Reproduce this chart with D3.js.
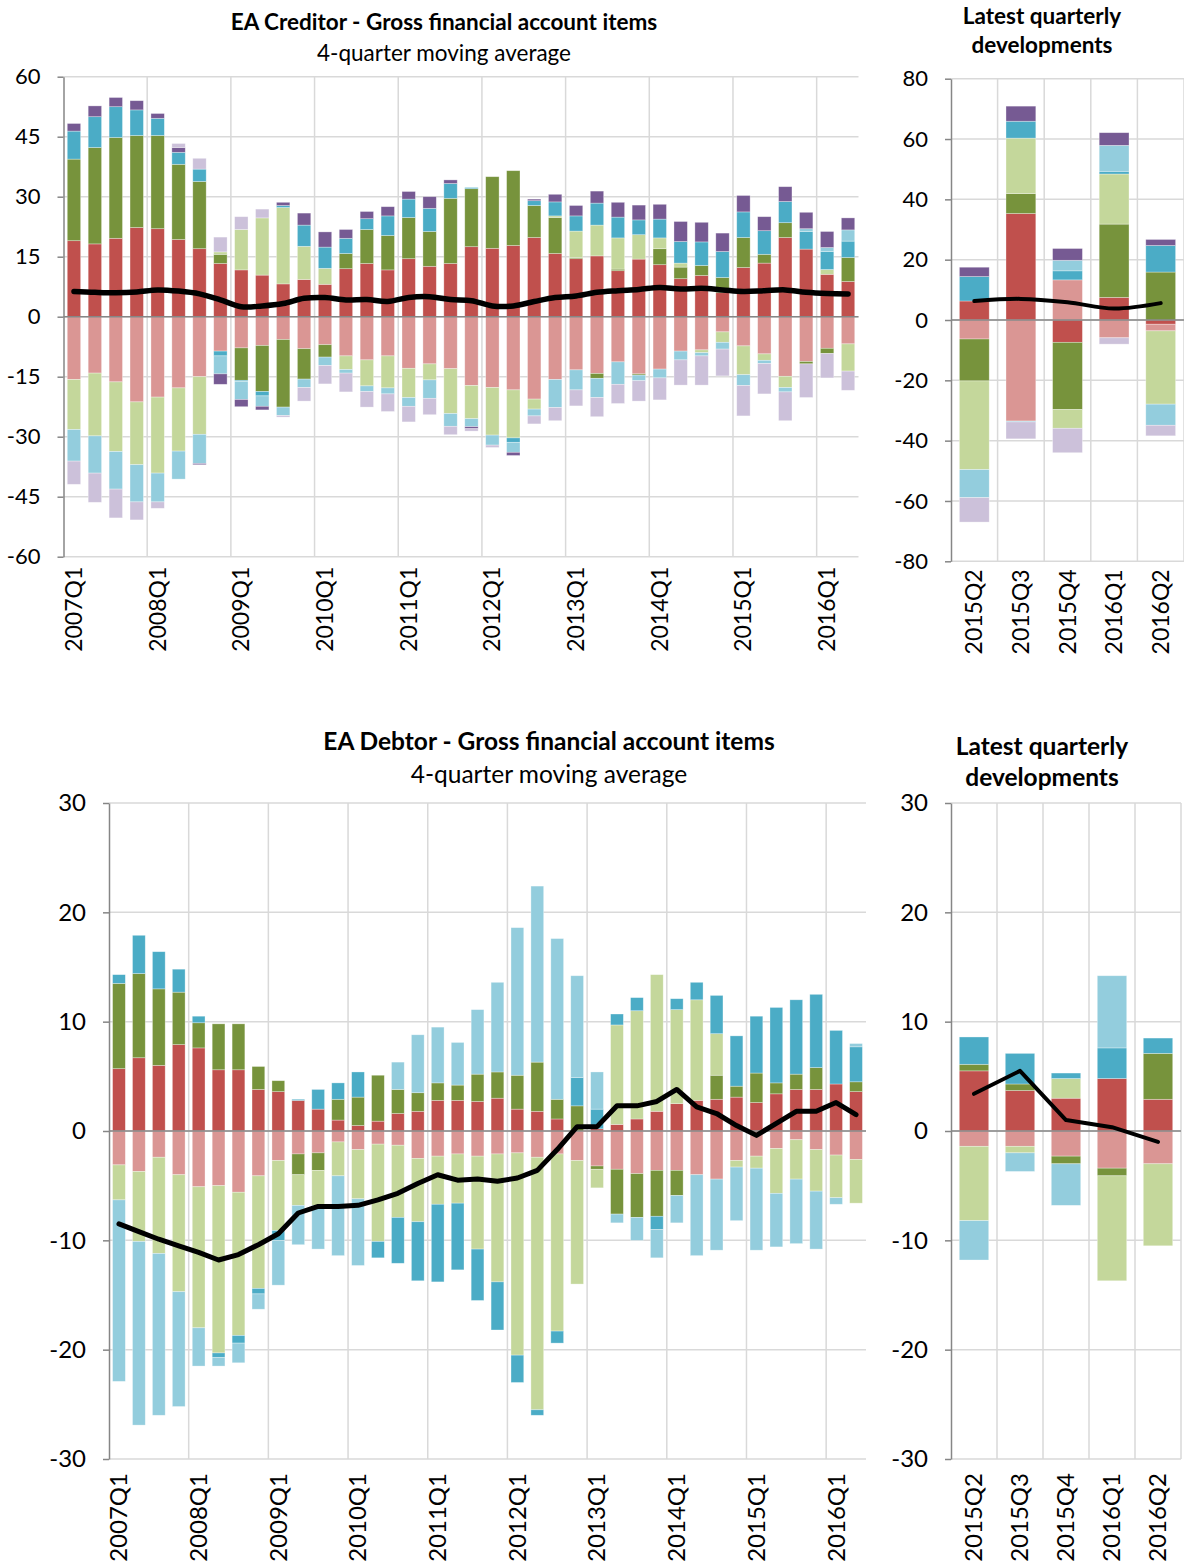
<!DOCTYPE html>
<html>
<head>
<meta charset="utf-8">
<script src="https://cdn.jsdelivr.net/npm/d3@7"></script>
<style>
  body { margin: 0; background: #fff; }
  svg { display: block; font-family: Lato, "Open Sans", sans-serif; }
</style>
</head>
<body>
<svg id="chart" width="1184" height="1564"></svg>
<script>
// categories
const quarters = ["2007Q1","2007Q2","2007Q3","2007Q4","2008Q1","2008Q2","2008Q3","2008Q4",
  "2009Q1","2009Q2","2009Q3","2009Q4","2010Q1","2010Q2","2010Q3","2010Q4",
  "2011Q1","2011Q2","2011Q3","2011Q4","2012Q1","2012Q2","2012Q3","2012Q4",
  "2013Q1","2013Q2","2013Q3","2013Q4","2014Q1","2014Q2","2014Q3","2014Q4",
  "2015Q1","2015Q2","2015Q3","2015Q4","2016Q1","2016Q2"];
const quarterLabels = ["2007Q1","2008Q1","2009Q1","2010Q1","2011Q1","2012Q1","2013Q1","2014Q1","2015Q1","2016Q1"];
const latestQuarters = ["2015Q2","2015Q3","2015Q4","2016Q1","2016Q2"];

// EA creditor, 4-quarter moving average
const credDirA  = [19.0,18.2,19.6,22.3,22.0,19.3,17.0,13.3,11.7,10.4,8.2,9.3,8.1,12.0,13.3,11.7,14.5,12.6,13.3,17.5,17.1,17.8,19.8,15.8,14.5,15.2,11.5,14.4,13.0,9.5,10.3,6.0,12.3,13.4,19.8,16.9,10.6,8.8];
const credDirL  = [-15.7,-14.1,-16.3,-21.3,-20.1,-17.8,-15.0,-8.6,-7.8,-7.2,-5.7,-8.0,-7.0,-9.8,-10.8,-9.8,-12.9,-11.8,-13.0,-17.2,-17.7,-18.3,-20.6,-15.7,-13.3,-14.2,-11.3,-14.3,-13.1,-8.6,-8.3,-3.8,-7.3,-9.3,-14.9,-11.2,-7.9,-6.8];
const credEqA   = [20.4,24.1,25.2,23.0,23.3,18.8,16.8,2.3,-8.1,-11.5,-16.9,-7.6,-3.1,3.8,8.5,8.6,10.3,8.7,16.3,14.5,17.9,18.7,8.0,9.0,0.3,-1.2,0.4,-0.3,4.0,2.9,2.5,3.8,7.5,2.2,3.7,-0.6,-1.3,6.0];
const credEqL   = [-12.5,-15.7,-17.4,-15.7,-19.0,-15.8,-14.4,0.6,10.1,14.3,19.1,8.3,4.0,-3.4,-6.5,-8.0,-7.3,-4.0,-11.2,-8.3,-11.9,-12.0,-2.5,0.4,6.6,7.7,7.8,6.1,2.7,1.0,-0.7,-2.6,-7.2,-1.6,-2.8,0,1.2,-6.8];
const credDebtA = [7.0,7.7,7.7,6.4,4.3,3.0,3.1,-1.2,-0.3,-1.1,0.5,5.3,5.3,3.8,2.7,4.9,4.6,5.8,3.7,0.3,0,-1.1,1.2,3.5,3.8,5.5,5.2,3.7,4.7,5.4,5.9,6.5,6.4,5.9,5.3,4.4,4.5,4.1];
const credDebtL = [-7.9,-9.3,-9.4,-9.3,-7.2,-7.0,-7.3,-4.5,-4.5,-2.6,-2.1,-2.1,-2.1,-0.9,-1.4,-1.5,-2.2,-4.6,-3.2,-2.0,-2.5,-2.5,-1.7,-7.0,-5.0,-4.8,-5.6,-1.4,-2.2,-2.2,-0.8,-1.7,-2.7,-0.8,-1.1,0.7,1.0,2.8];
const credOthA  = [1.9,2.7,2.3,2.3,1.2,1.2,-0.3,-2.6,-1.8,-0.9,0.8,3.0,3.8,2.2,1.8,2.3,1.9,2.9,0.9,-0.5,0,-0.8,0.4,1.9,2.6,3.0,3.7,3.7,3.7,5.0,4.9,4.6,4.1,3.5,3.7,4.1,4.0,3.0];
const credOthL  = [-5.8,-7.3,-7.2,-4.5,-1.6,1.0,2.7,3.7,3.2,2.2,-0.4,-3.4,-4.6,-4.7,-3.9,-4.4,-3.9,-4.1,-2.1,-0.6,-0.6,0,-2.0,-3.3,-4.0,-4.8,-4.8,-5.1,-5.5,-6.3,-7.3,-6.7,-7.6,-7.6,-7.2,-8.4,-6.1,-4.8];
const credNet   = [6.3,6.1,6.0,6.2,6.7,6.4,5.7,4.2,2.5,2.7,3.3,4.6,4.8,4.2,4.3,3.8,4.8,5.0,4.3,4.0,2.7,2.7,3.8,4.8,5.2,6.1,6.5,6.8,7.3,6.9,7.1,6.7,6.3,6.5,6.7,6.1,5.8,5.7];

// EA creditor, latest quarters
const credQDirA  = [6.3,35.3,-7.4,7.5,-1.4];
const credQDirL  = [-6.3,-33.5,13.3,-5.9,-2.2];
const credQEqA   = [-13.9,6.6,-22.3,24.3,15.9];
const credQEqL   = [-29.4,18.4,-6.2,16.6,-24.3];
const credQDebtA = [8.1,5.6,3.0,0.9,8.8];
const credQDebtL = [-9.3,-0.3,3.5,8.6,-7.0];
const credQOthA  = [3.1,5.0,3.9,4.2,2.0];
const credQOthL  = [-8.1,-5.6,-8.1,-2.1,-3.5];
const credQNet   = [6.3,7.0,5.9,3.8,5.6];

// EA debtor, 4-quarter moving average
const debtDirA  = [5.7,6.7,6.0,7.9,7.6,5.6,5.6,3.8,3.6,2.8,2.0,1.0,0.5,0.9,1.6,1.8,2.8,2.8,2.7,3.0,2.0,1.8,1.1,0,0.2,0.6,1.1,1.8,2.5,2.8,2.9,3.1,2.6,3.4,3.8,3.8,4.3,3.6];
const debtDirL  = [-3.1,-3.7,-2.4,-4.0,-5.1,-5.0,-5.6,-4.1,-2.7,-2.1,-2.0,-1.0,-1.7,-1.2,-1.3,-2.5,-2.3,-2.1,-2.3,-2.1,-2.0,-2.4,-2.1,-2.7,-3.2,-3.5,-3.9,-3.6,-3.6,-4.0,-4.4,-2.7,-2.3,-1.6,-0.8,-1.7,-2.2,-2.6];
const debtEqA   = [7.8,7.7,7.0,4.8,2.3,4.2,4.2,2.1,1.0,-1.9,-1.6,1.9,2.6,4.2,2.2,1.7,1.6,1.4,2.5,2.4,3.1,4.5,1.8,2.3,-0.3,-4.1,-4.0,-4.2,-2.3,0,2.2,1.0,2.7,1.0,1.4,2.0,0,0.9];
const debtEqL   = [-3.2,-6.4,-8.8,-10.7,-12.9,-15.3,-13.1,-10.3,-6.4,-2.8,-3.2,-3.1,-4.5,-8.9,-6.6,-5.8,-4.4,-4.5,-8.5,-11.7,-18.5,-23.1,-16.2,-11.3,-1.7,9.1,9.9,12.5,8.6,9.2,3.8,-0.6,-1.1,-4.1,-3.6,-3.8,-3.9,-4.0];
const debtDebtA = [0.8,3.5,3.4,2.1,0.6,-0.4,-0.7,-0.5,-0.9,0.1,1.8,1.5,2.3,-1.5,-4.2,-5.4,-7.1,-6.1,-4.7,-4.4,-2.5,-0.5,-1.1,2.6,1.8,1.0,1.2,-1.2,1.0,1.6,3.5,4.6,5.2,6.9,6.8,6.7,4.9,3.2];
const debtDebtL = [-16.6,-16.8,-14.8,-10.5,-3.5,-0.8,-1.8,-1.4,-4.1,-3.6,-4.0,-7.3,-6.1,0,2.5,5.3,5.1,3.9,5.9,8.2,13.5,16.1,14.7,9.3,3.4,-0.8,-2.1,-2.6,-2.5,-7.4,-6.5,-4.9,-7.5,-4.9,-5.9,-5.3,-0.6,0.3];
const debtNet   = [-8.5,-9.2,-9.9,-10.5,-11.1,-11.8,-11.3,-10.4,-9.4,-7.5,-6.9,-6.9,-6.8,-6.3,-5.7,-4.8,-4.0,-4.5,-4.4,-4.6,-4.3,-3.6,-1.7,0.4,0.4,2.3,2.3,2.7,3.8,2.2,1.6,0.5,-0.4,0.7,1.8,1.8,2.6,1.5];

// EA debtor, latest quarters
const debtQDirA  = [5.5,3.7,3.0,4.8,2.9];
const debtQDirL  = [-1.4,-1.4,-2.3,-3.4,-3.0];
const debtQEqA   = [0.6,0.6,-0.7,-0.7,4.2];
const debtQEqL   = [-6.8,-0.6,1.8,-9.6,-7.5];
const debtQDebtA = [2.5,2.8,0.5,2.8,1.4];
const debtQDebtL = [-3.6,-1.7,-3.8,6.6,0];
const debtQNet   = [3.4,5.5,1.0,0.35,-1.0];

const ticks60 = [-60,-45,-30,-15,0,15,30,45,60];
const ticks80 = [-80,-60,-40,-20,0,20,40,60,80];
const ticks30 = [-30,-20,-10,0,10,20,30];

const colors = {
  dirA: "#C0504D", dirL: "#DA9694",
  eqA: "#77933C",  eqL: "#C4D79B",
  debtA: "#4BACC6", debtL: "#93CDDD",
  othA: "#765A93", othL: "#CCC1DA"
};

const svg = d3.select("#chart");

function makeRows(cats, cols) {
  return cats.map(function(c, i) {
    const r = {cat: c};
    Object.keys(cols).forEach(function(k) { r[k] = cols[k][i]; });
    return r;
  });
}

function drawPanel(p) {
  const g = svg.append("g");
  const keys = Object.keys(p.cols);
  const rows = makeRows(p.cats, p.cols);

  const x = d3.scaleBand().domain(p.cats).range([p.x0, p.x1])
      .paddingInner(0.36).paddingOuter(0.18);
  const y = d3.scaleLinear().domain(p.domain).range([p.yBot, p.yTop]);
  const gap = x.step() * x.paddingInner() / 2;

  // horizontal gridlines
  g.append("g").selectAll("line").data(p.ticks).join("line")
      .attr("x1", p.x0).attr("x2", p.x1)
      .attr("y1", d => y(d)).attr("y2", d => y(d))
      .attr("stroke", "#d9d9d9").attr("stroke-width", 1.5);

  // vertical gridlines
  const vx = p.vgrid.map(c => x(c) - gap);
  if (p.rightEdge) vx.push(p.x1);
  g.append("g").selectAll("line").data(vx).join("line")
      .attr("x1", d => d).attr("x2", d => d)
      .attr("y1", p.yTop).attr("y2", p.yBot)
      .attr("stroke", "#d9d9d9").attr("stroke-width", 1.5);

  // stacked bars
  const series = d3.stack().keys(keys).offset(d3.stackOffsetDiverging)(rows);
  g.append("g").selectAll("g").data(series).join("g")
      .attr("fill", d => colors[d.key])
    .selectAll("rect").data(d => d).join("rect")
      .attr("x", d => x(d.data.cat))
      .attr("width", x.bandwidth())
      .attr("y", d => y(Math.max(d[0], d[1])))
      .attr("height", d => Math.abs(y(d[0]) - y(d[1])))
      .attr("stroke", "#fff").attr("stroke-opacity", 0.45).attr("stroke-width", 0.7);

  // zero line
  g.append("line")
      .attr("x1", p.x0).attr("x2", p.x1)
      .attr("y1", y(0)).attr("y2", y(0))
      .attr("stroke", "#868686").attr("stroke-width", 1.5);

  // y axis
  const ya = g.append("g")
      .attr("transform", "translate(" + p.x0 + ",0)")
      .call(d3.axisLeft(y).tickValues(p.ticks).tickFormat(d => String(d))
        .tickSizeInner(6).tickSizeOuter(0).tickPadding(17));
  ya.select(".domain").attr("stroke", "#868686").attr("stroke-width", 1.5);
  ya.selectAll(".tick line").attr("stroke", "#868686").attr("stroke-width", 1.5);
  ya.selectAll("text").attr("font-size", p.tickFont).attr("fill", "#000")
      .attr("font-family", "Lato, 'Open Sans', sans-serif");

  // x labels
  const xa = g.append("g")
      .attr("transform", "translate(0," + p.yBot + ")")
      .call(d3.axisBottom(x).tickValues(p.labels).tickSize(0));
  xa.select(".domain").remove();
  xa.selectAll("text")
      .attr("transform", "rotate(-90)")
      .attr("x", -p.labelPad).attr("y", 0).attr("dy", "0.35em")
      .attr("text-anchor", "end")
      .attr("font-size", p.labelFont).attr("fill", "#000")
      .attr("font-family", "Lato, 'Open Sans', sans-serif");

  // net line
  const line = d3.line()
      .x(d => x(d.cat) + x.bandwidth() / 2)
      .y(d => y(d.v))
      .curve(p.curve);
  g.append("path")
      .datum(p.cats.map((c, i) => ({cat: c, v: p.net[i]})))
      .attr("d", line)
      .attr("fill", "none").attr("stroke", "#000")
      .attr("stroke-width", p.lineWidth)
      .attr("stroke-linejoin", "round").attr("stroke-linecap", "round");
}

function title(lines, cx, size) {
  lines.forEach(function(l) {
    svg.append("text")
        .attr("x", cx).attr("y", l.y)
        .attr("text-anchor", "middle").attr("dominant-baseline", "central")
        .attr("font-size", size).attr("font-weight", l.bold ? 700 : 400)
        .attr("fill", "#000")
        .text(l.t);
  });
}

// top left
drawPanel({
  cats: quarters, labels: quarterLabels, vgrid: quarterLabels.slice(1), rightEdge: false,
  x0: 63.5, x1: 858.5, yTop: 76.7, yBot: 556.7, domain: [-60, 60], ticks: ticks60,
  cols: {dirA: credDirA, dirL: credDirL, eqA: credEqA, eqL: credEqL,
         debtA: credDebtA, debtL: credDebtL, othA: credOthA, othL: credOthL},
  net: credNet, curve: d3.curveCatmullRom, lineWidth: 5.5,
  tickFont: 22, labelFont: 23, labelPad: 10
});
// top right
drawPanel({
  cats: latestQuarters, labels: latestQuarters, vgrid: latestQuarters.slice(1), rightEdge: true,
  x0: 951, x1: 1184, yTop: 78.7, yBot: 561.3, domain: [-80, 80], ticks: ticks80,
  cols: {dirA: credQDirA, dirL: credQDirL, eqA: credQEqA, eqL: credQEqL,
         debtA: credQDebtA, debtL: credQDebtL, othA: credQOthA, othL: credQOthL},
  net: credQNet, curve: d3.curveCatmullRom, lineWidth: 4,
  tickFont: 22, labelFont: 23, labelPad: 8
});
// bottom left
drawPanel({
  cats: quarters, labels: quarterLabels, vgrid: quarterLabels.slice(1), rightEdge: false,
  x0: 109, x1: 866, yTop: 803, yBot: 1459, domain: [-30, 30], ticks: ticks30,
  cols: {dirA: debtDirA, dirL: debtDirL, eqA: debtEqA, eqL: debtEqL,
         debtA: debtDebtA, debtL: debtDebtL},
  net: debtNet, curve: d3.curveLinear, lineWidth: 5,
  tickFont: 24, labelFont: 24, labelPad: 14
});
// bottom right
drawPanel({
  cats: latestQuarters, labels: latestQuarters, vgrid: latestQuarters.slice(1), rightEdge: true,
  x0: 951, x1: 1181, yTop: 803, yBot: 1459, domain: [-30, 30], ticks: ticks30,
  cols: {dirA: debtQDirA, dirL: debtQDirL, eqA: debtQEqA, eqL: debtQEqL,
         debtA: debtQDebtA, debtL: debtQDebtL},
  net: debtQNet, curve: d3.curveLinear, lineWidth: 4,
  tickFont: 24, labelFont: 24, labelPad: 14
});

title([{t: "EA Creditor - Gross financial account items", y: 21, bold: true},
       {t: "4-quarter moving average", y: 52, bold: false}], 444, 22.5);
title([{t: "Latest quarterly", y: 15, bold: true},
       {t: "developments", y: 44, bold: true}], 1042, 22.5);
title([{t: "EA Debtor - Gross financial account items", y: 740, bold: true},
       {t: "4-quarter moving average", y: 773, bold: false}], 549, 24.5);
title([{t: "Latest quarterly", y: 745, bold: true},
       {t: "developments", y: 776, bold: true}], 1042, 24.5);
</script>
</body>
</html>
